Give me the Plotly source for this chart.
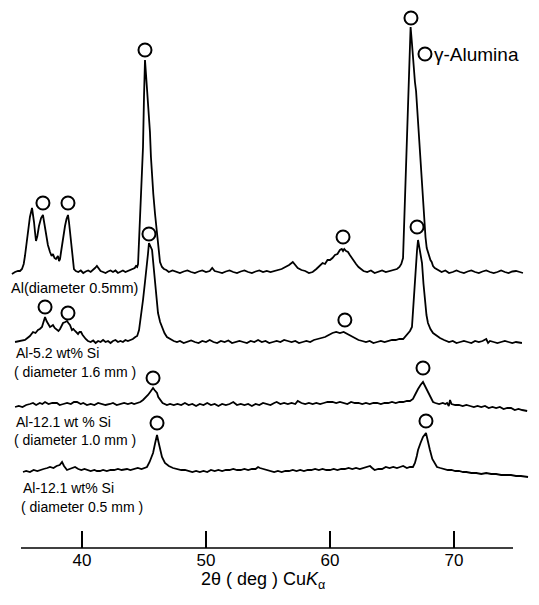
import plotly.graph_objects as go

# ---------------- data (2theta in deg, intensity in arbitrary units above each baseline) -------------
al05 = [
    (34.35, -2), (34.6, 0), (34.84, 1), (35.0, 1), (35.16, 3), (35.30, 8), (35.40, 16), (35.52, 28),
    (35.65, 42), (35.80, 55), (35.97, 64), (36.05, 58), (36.13, 50), (36.21, 40), (36.29, 31), (36.40, 36),
    (36.53, 46), (36.70, 54), (36.85, 57), (36.97, 48), (37.10, 38), (37.25, 27), (37.42, 20), (37.55, 16),
    (37.66, 18), (37.78, 14), (37.90, 13), (38.06, 16), (38.15, 11), (38.23, 13), (38.31, 20), (38.39, 28),
    (38.50, 37), (38.63, 46), (38.75, 53), (38.87, 57), (38.95, 50), (39.03, 40), (39.11, 30), (39.19, 20),
    (39.27, 10), (39.35, 3), (39.50, 1), (39.70, 0), (39.90, 1.5), (40.10, -1), (40.30, 0.5), (40.50, 1.5),
    (40.70, 0), (40.90, 2), (41.05, 4), (41.20, 6), (41.35, 3), (41.50, 1), (41.70, 0), (41.90, -1),
    (42.10, 0.5), (42.30, 1.5), (42.50, 0), (42.70, 1.5), (42.90, -1), (43.10, 0), (43.30, 1.5), (43.50, 0),
    (43.70, 1), (43.90, 2), (44.10, 3), (44.25, 4), (44.35, 6), (44.45, 5), (44.52, 8), (44.60, 30),
    (44.68, 45), (44.76, 70), (44.84, 95), (44.92, 125), (45.00, 175), (45.08, 212), (45.16, 198),
    (45.24, 185), (45.32, 172), (45.40, 158), (45.48, 140), (45.56, 115), (45.65, 92), (45.75, 78),
    (45.89, 58), (45.97, 48), (46.05, 39), (46.15, 25), (46.29, 10), (46.45, 5), (46.61, 3), (46.80, 2),
    (47.0, 0), (47.3, 1.5), (47.6, 0), (47.9, -1), (48.2, 0.5), (48.5, 1.5), (48.8, 0), (49.1, -1),
    (49.4, 0.5), (49.7, 1.5), (50.0, 0), (50.3, 1), (50.5, 4), (50.7, 1), (51.0, 0), (51.3, -1),
    (51.6, 0.5), (51.9, 1.5), (52.2, 0), (52.5, -1), (52.8, 0.5), (53.1, 1.5), (53.4, 0), (53.7, -1),
    (54.0, 0.5), (54.3, 1.5), (54.6, 0), (54.9, 1), (55.2, 0), (55.5, 1), (55.8, 2), (56.1, 3),
    (56.4, 5), (56.7, 7), (57.0, 10), (57.2, 7), (57.4, 4), (57.7, 2), (58.0, 1), (58.3, -1),
    (58.6, 0), (58.9, 3), (59.2, 7), (59.4, 9), (59.6, 8), (59.8, 12), (60.0, 12), (60.2, 14),
    (60.4, 17), (60.6, 18), (60.8, 22), (60.95, 23), (61.05, 21), (61.15, 23), (61.3, 21), (61.45, 20),
    (61.6, 17), (61.75, 14), (61.9, 11), (62.1, 8), (62.3, 5), (62.5, 3), (62.7, 1), (63.0, 0),
    (63.3, 1.5), (63.6, -1), (63.9, 0), (64.2, 1.5), (64.5, 0), (64.8, 1), (65.1, 2), (65.4, 3),
    (65.6, 5), (65.75, 8), (65.89, 14), (66.05, 75), (66.21, 135), (66.37, 195), (66.50, 245),
    (66.60, 230), (66.69, 213), (66.85, 190), (66.94, 181), (67.10, 149), (67.26, 117), (67.42, 85),
    (67.60, 50), (67.70, 35), (67.80, 24), (67.95, 17), (68.10, 12), (68.20, 10), (68.31, 6), (68.45, 4),
    (68.7, 2), (69.0, 0), (69.3, 1.5), (69.6, -1), (69.9, 0), (70.2, 1.5), (70.5, 0), (70.8, -1),
    (71.1, 0.5), (71.4, 1.5), (71.7, 0), (72.0, -1), (72.3, 0.5), (72.6, 1.5), (72.9, 0), (73.2, -1),
    (73.5, 0), (73.8, 1.5), (74.1, 0), (74.4, -1), (74.7, 0.5), (75.0, 1), (75.3, 0), (75.56, -1),
]

al52si = [
    (34.60, 0), (34.90, 1), (35.20, 2), (35.40, 2), (35.60, 4), (35.80, 6), (36.05, 10), (36.25, 9),
    (36.45, 12), (36.60, 13), (36.77, 15), (36.90, 20), (37.02, 25), (37.14, 21), (37.26, 18), (37.42, 15),
    (37.55, 16), (37.66, 17), (37.80, 14), (37.98, 12), (38.10, 11), (38.23, 13), (38.35, 16), (38.47, 19),
    (38.65, 20), (38.79, 21), (38.90, 19), (39.03, 17), (39.19, 12), (39.30, 13), (39.44, 11), (39.56, 9),
    (39.68, 8), (39.80, 10), (39.92, 10), (40.05, 7), (40.16, 5), (40.30, 3), (40.48, 1), (40.70, 0),
    (40.9, 1.5), (41.1, -1), (41.3, 1), (41.5, 0), (41.7, 2), (41.9, 0), (42.1, 1), (42.3, -1),
    (42.5, 1), (42.7, 2), (42.9, 0), (43.1, 1), (43.3, 0), (43.5, 2), (43.7, 1), (43.9, 2),
    (44.1, 3), (44.3, 5), (44.45, 6), (44.60, 12), (44.68, 19), (44.80, 30), (44.92, 42), (45.08, 60),
    (45.24, 75), (45.32, 88), (45.40, 99), (45.48, 97), (45.56, 95), (45.65, 92), (45.77, 76), (45.89, 59),
    (46.01, 42), (46.13, 29), (46.30, 20), (46.45, 15), (46.65, 9), (46.85, 5), (47.10, 3), (47.40, 1),
    (47.66, 0), (47.9, 1), (48.2, -1), (48.5, 0.5), (48.8, 1.5), (49.1, 0), (49.4, -1), (49.7, 1),
    (50.0, 0), (50.3, 2), (50.6, 0), (50.9, -1), (51.2, 1), (51.5, 0), (51.8, 1.5), (52.1, -1),
    (52.4, 0), (52.7, 1), (53.0, 0), (53.3, -1), (53.6, 1), (53.9, 0), (54.2, 2), (54.5, 0),
    (54.8, 1), (55.1, -1), (55.4, 0), (55.7, 1), (56.0, 0), (56.3, 2), (56.6, 1), (56.9, 0),
    (57.2, 1), (57.5, -1), (57.8, 0), (58.1, 1), (58.4, 0), (58.7, 2), (59.0, 3), (59.3, 4),
    (59.6, 5), (59.9, 7), (60.2, 9), (60.5, 10), (60.8, 9), (61.1, 10), (61.4, 8), (61.7, 6),
    (62.0, 4), (62.3, 2), (62.6, 1), (62.9, 0), (63.2, 1), (63.5, -1), (63.8, 0), (64.1, 1),
    (64.4, 0), (64.7, 1), (65.0, 2), (65.3, 2), (65.6, 3), (65.9, 3), (66.21, 7), (66.45, 11),
    (66.61, 15), (66.69, 32), (66.77, 48), (66.85, 65), (66.94, 80), (67.02, 92), (67.10, 102),
    (67.18, 97), (67.26, 90), (67.34, 85), (67.42, 79), (67.54, 58), (67.66, 39), (67.78, 27),
    (67.90, 19), (68.10, 13), (68.31, 9), (68.60, 6), (68.87, 4), (69.2, 2), (69.6, 0), (69.9, 1),
    (70.2, -1), (70.5, 0), (70.8, 1), (71.1, 0), (71.4, -1), (71.7, 1), (72.0, 0), (72.3, 1),
    (72.6, 3), (72.75, -1), (72.9, 1), (73.2, 0), (73.5, -1), (73.8, 0), (74.1, 1), (74.4, 0),
    (74.7, -1), (75.0, 0), (75.48, -1),
]

al121si_10 = [
    (34.6, 0), (34.9, 1), (35.2, 0), (35.5, 2), (35.8, 3), (36.05, 4), (36.3, 2), (36.6, 4),
    (36.8, 3), (37.02, 5), (37.3, 3), (37.6, 4), (37.98, 4), (38.2, 2), (38.5, 3), (38.8, 4),
    (39.1, 3), (39.35, 5), (39.6, 5), (39.9, 3), (40.1, 4), (40.4, 2), (40.7, 3), (41.0, 2),
    (41.3, 4), (41.6, 3), (41.9, 2), (42.26, 3), (42.5, 4), (42.8, 2), (43.1, 3), (43.4, 4),
    (43.7, 3), (44.0, 4), (44.2, 3), (44.44, 4), (44.7, 5), (44.92, 7), (45.1, 9), (45.32, 12),
    (45.5, 15), (45.65, 18), (45.73, 19), (45.85, 17), (46.05, 14), (46.15, 10), (46.29, 7), (46.5, 4),
    (46.85, 2), (47.1, 3), (47.4, 2), (47.7, 3), (48.0, 2), (48.3, 4), (48.6, 2), (48.9, 3),
    (49.2, 1), (49.5, 3), (49.8, 2), (50.1, 4), (50.4, 2), (50.7, 3), (51.0, 1), (51.3, 3),
    (51.6, 2), (51.9, 3), (52.2, 5), (52.5, 2), (52.8, 3), (53.1, 2), (53.4, 3), (53.7, 1),
    (54.0, 3), (54.3, 2), (54.6, 4), (54.9, 3), (55.2, 2), (55.5, 4), (55.7, 5), (56.0, 3),
    (56.3, 4), (56.6, 3), (56.9, 4), (57.2, 3), (57.4, 6), (57.7, 4), (58.0, 3), (58.3, 4),
    (58.6, 3), (58.9, 4), (59.2, 3), (59.5, 4), (59.8, 5), (60.2, 5), (60.5, 4), (60.8, 5),
    (61.1, 4), (61.4, 3), (61.7, 5), (62.0, 4), (62.3, 4), (62.6, 3), (62.9, 4), (63.2, 3),
    (63.5, 4), (63.8, 4), (64.1, 3), (64.4, 4), (64.7, 4), (65.0, 5), (65.3, 4), (65.6, 5),
    (65.9, 5), (66.2, 6), (66.45, 6), (66.69, 8), (66.85, 12), (67.0, 16), (67.1, 18), (67.3, 22),
    (67.42, 24), (67.5, 25), (67.58, 23), (67.7, 20), (67.82, 17), (67.95, 13), (68.1, 9), (68.31, 5),
    (68.5, 4), (68.8, 3), (69.1, 4), (69.3, 3), (69.44, 4), (69.58, 1), (69.68, 7), (69.8, 3),
    (70.1, 2), (70.4, 2), (70.7, 1), (71.0, 2), (71.3, 1), (71.6, 0), (71.9, 1), (72.2, 0),
    (72.5, 1), (72.8, -1), (73.1, 0), (73.4, -1), (73.7, 0), (74.0, -2), (74.3, -1), (74.6, -1),
    (74.9, -3), (75.2, -2), (75.5, -3), (75.9, -4),
]

al121si_05 = [
    (35.24, 1), (35.5, 2), (35.8, 1), (36.1, 3), (36.4, 2), (36.61, 3), (36.9, 4), (37.2, 5),
    (37.42, 6), (37.7, 5), (37.95, 7), (38.2, 8), (38.39, 11), (38.55, 7), (38.79, 3), (39.0, 4),
    (39.2, 5), (39.44, 6), (39.7, 4), (39.95, 3), (40.2, 4), (40.4, 3), (40.7, 2), (41.0, 3),
    (41.2, 2), (41.45, 2), (41.7, 3), (42.0, 2), (42.3, 3), (42.6, 3), (42.9, 4), (43.2, 3),
    (43.63, 4), (43.9, 3), (44.2, 4), (44.5, 5), (44.8, 4), (45.0, 5), (45.24, 6), (45.45, 11),
    (45.6, 16), (45.73, 20), (45.9, 30), (46.05, 38), (46.17, 31), (46.29, 23), (46.45, 16), (46.69, 10),
    (47.0, 7), (47.34, 5), (47.6, 4), (48.0, 3), (48.31, 3), (48.6, 2), (48.9, 1), (49.2, 2),
    (49.5, 1), (49.8, 2), (50.1, 1), (50.4, 3), (50.7, 2), (51.0, 3), (51.3, 2), (51.6, 3),
    (51.9, 3), (52.2, 4), (52.5, 3), (52.8, 3), (53.1, 4), (53.4, 3), (53.7, 4), (54.0, 4),
    (54.2, 6), (54.35, 5), (54.6, 4), (54.9, 3), (55.2, 2), (55.5, 1), (55.8, 2), (56.1, 1),
    (56.4, 2), (56.7, 2), (57.0, 3), (57.3, 2), (57.6, 3), (57.9, 2), (58.2, 3), (58.5, 3),
    (58.8, 4), (59.1, 3), (59.4, 4), (59.7, 3), (60.0, 3), (60.3, 4), (60.6, 3), (60.9, 4),
    (61.2, 4), (61.5, 5), (61.8, 4), (62.1, 5), (62.4, 4), (62.7, 5), (63.0, 6), (63.23, 7),
    (63.4, 5), (63.6, 3), (63.9, 4), (64.2, 4), (64.5, 6), (64.8, 5), (65.1, 6), (65.4, 5),
    (65.65, 6), (65.9, 7), (66.2, 5), (66.45, 6), (66.69, 6), (66.85, 10), (67.0, 17), (67.1, 23),
    (67.3, 30), (67.5, 36), (67.74, 40), (67.86, 33), (67.95, 28), (68.06, 23), (68.25, 14), (68.45, 9),
    (68.63, 6), (68.9, 5), (69.2, 4), (69.5, 3), (69.8, 3), (70.1, 2), (70.4, 2), (70.73, 1),
    (71.0, 1), (71.4, 0), (71.8, 0), (72.2, -1), (72.6, 0), (73.0, -1), (73.4, -1), (73.8, -2),
    (74.2, -2), (74.6, -2), (75.0, -3), (75.4, -3), (75.97, -4),
]

# gamma-alumina peak marks (2theta, height above baseline)
al05_marks = [(36.85, 69), (38.87, 69), (45.08, 222), (61.05, 35), (66.53, 254)]
al52si_marks = [(37.02, 35), (38.87, 29), (45.40, 108), (61.2, 22), (67.02, 115)]
al121si_10_marks = [(45.73, 29), (67.5, 39)]
al121si_05_marks = [(46.05, 50), (67.74, 52)]

# vertical offsets of the stacked patterns
offsets = [276, 206, 141, 75]
patterns = [al05, al52si, al121si_10, al121si_05]
marks = [al05_marks, al52si_marks, al121si_10_marks, al121si_05_marks]

tick_values = [40, 50, 60, 70]
tick_labels = ["40", "50", "60", "70"]

FONT = "Liberation Sans, Arial, Helvetica, sans-serif"
W, H = 539, 605
B = 57
PH = H - B

fig = go.Figure()
for pat, off, mk in zip(patterns, offsets, marks):
    fig.add_trace(go.Scatter(
        x=[p[0] for p in pat], y=[p[1] + off for p in pat], mode="lines",
        line=dict(color="black", width=1.8), hoverinfo="skip", showlegend=False))
    fig.add_trace(go.Scatter(
        x=[m[0] for m in mk], y=[m[1] + off for m in mk], mode="markers",
        marker=dict(symbol="circle-open", size=13, color="black", line=dict(width=2, color="black")),
        hoverinfo="skip", showlegend=False))

# legend circle
fig.add_trace(go.Scatter(
    x=[67.66], y=[PH - 54], mode="markers",
    marker=dict(symbol="circle-open", size=13, color="black", line=dict(width=2, color="black")),
    hoverinfo="skip", showlegend=False))


def px2deg(px):
    return 40 + (px - 82) / 12.4


def ann(text, xpx, ypx, size=14, xanchor="left"):
    fig.add_annotation(text=text, x=xpx / W, y=(PH - ypx) / PH, xref="paper", yref="paper",
                       xanchor=xanchor, yanchor="middle", showarrow=False,
                       font=dict(family=FONT, size=size, color="black"))


ann("Al(diameter 0.5mm)", 9, 288, size=14.5)
ann("Al-5.2 wt% Si", 14, 353)
ann("( diameter 1.6 mm )", 12, 372)
ann("Al-12.1 wt % Si", 14, 422)
ann("( diameter 1.0 mm )", 12, 440)
ann("Al-12.1 wt% Si", 21, 488)
ann("( diameter 0.5 mm )", 19, 507)
ann("γ-Alumina", 432, 54, size=19)
ann("2θ ( deg ) Cu<i>K</i><sub>α</sub>", 263, 580, size=18, xanchor="center")

# axis baseline line
fig.add_shape(type="line", x0=px2deg(21), x1=px2deg(513), y0=0, y1=0, xref="x", yref="paper",
              line=dict(color="black", width=1.6))

fig.update_layout(
    width=W, height=H, autosize=False,
    margin=dict(l=0, r=0, t=0, b=B),
    paper_bgcolor="white", plot_bgcolor="white",
    xaxis=dict(range=[px2deg(0), px2deg(W)], showgrid=False, zeroline=False, showline=False,
               ticks="inside", ticklen=17, tickwidth=1.6, tickcolor="black",
               tickvals=tick_values, ticktext=tick_labels,
               tickfont=dict(family=FONT, size=17, color="black")),
    yaxis=dict(range=[0, PH], showgrid=False, zeroline=False, showline=False,
               showticklabels=False, ticks=""),
)

fig.write_html("out.html", config={"displayModeBar": False},
               post_script="document.body.style.margin='0';document.body.style.overflow='hidden';")
